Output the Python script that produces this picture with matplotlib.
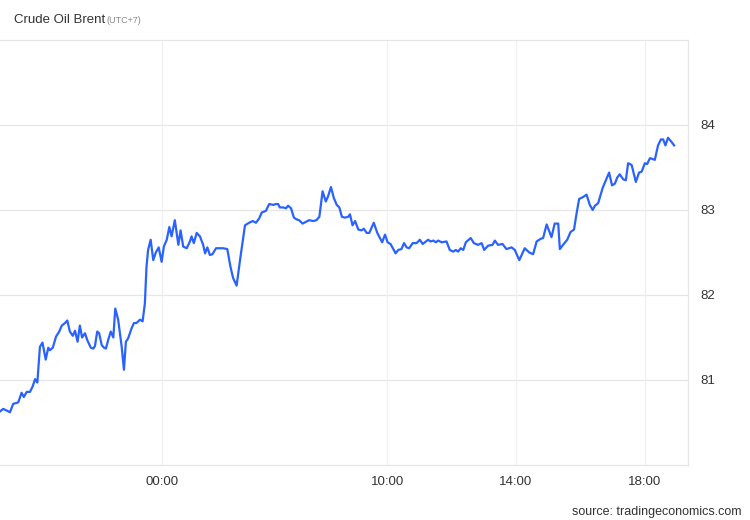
import matplotlib.pyplot as plt

plt.rcParams['font.family'] = ['Liberation Sans', 'DejaVu Sans']

# session hours on a compressed axis (0 = 00:00 label), price in USD/bbl
hours = [
    -5.03, -4.93, -4.82, -4.72, -4.62, -4.51, -4.46, -4.36, -4.29, -4.20,
    -4.10, -4.02, -3.94, -3.87, -3.79, -3.71, -3.61, -3.53, -3.48, -3.39,
    -3.29, -3.19, -3.11, -3.01, -2.94, -2.86, -2.77, -2.70, -2.62, -2.55,
    -2.48, -2.39, -2.32, -2.21, -2.13, -2.08, -2.01, -1.95, -1.87, -1.80,
    -1.74, -1.67, -1.59, -1.51, -1.45, -1.36, -1.25, -1.18, -1.12, -1.05,
    -0.94, -0.87, -0.79, -0.68, -0.60, -0.53, -0.48, -0.43, -0.35, -0.27,
    -0.19, -0.10, -0.01, 0.06, 0.15, 0.23, 0.30, 0.40, 0.51, 0.58,
    0.66, 0.77, 0.87, 0.92, 0.99, 1.08, 1.18, 1.28, 1.34, 1.41,
    1.49, 1.57, 1.68, 1.80, 1.90, 2.03, 2.13, 2.21, 2.32, 2.44,
    2.58, 2.71, 2.82, 2.92, 3.02, 3.10, 3.23, 3.33, 3.46, 3.54,
    3.61, 3.66, 3.77, 3.85, 3.92, 4.01, 4.10, 4.18, 4.26, 4.37,
    4.47, 4.57, 4.70, 4.80, 4.89, 4.99, 5.09, 5.16, 5.25, 5.34,
    5.43, 5.51, 5.59, 5.68, 5.79, 5.84, 5.92, 6.00, 6.10, 6.20,
    6.27, 6.36, 6.44, 6.58, 6.69, 6.84, 6.93, 7.01, 7.10, 7.26,
    7.34, 7.44, 7.52, 7.60, 7.68, 7.79, 7.91, 8.01, 8.10, 8.20,
    8.27, 8.34, 8.43, 8.51, 8.58, 8.69, 8.84, 8.94, 9.05, 9.13,
    9.20, 9.28, 9.36, 9.44, 9.59, 9.69, 9.82, 9.93, 10.01, 10.13,
    10.27, 10.34, 10.44, 10.58, 10.70, 10.86, 10.96, 11.10, 11.27, 11.41,
    11.53, 11.64, 11.76, 11.84, 11.95, 12.10, 12.20, 12.31, 12.36, 12.46,
    12.59, 12.69, 12.80, 12.88, 12.96, 13.07, 13.19, 13.29, 13.38, 13.45,
    13.55, 13.69, 13.79, 13.89, 13.98, 14.07, 14.14, 14.22, 14.33, 14.41,
    14.48, 14.59, 14.72, 14.82, 14.90, 15.00, 15.07, 15.16, 15.24, 15.31,
    15.41, 15.50, 15.57, 15.64, 15.72, 15.83, 15.91,
]
price = [
    80.63, 80.66, 80.64, 80.62, 80.72, 80.73, 80.74, 80.85, 80.80, 80.86,
    80.86, 80.92, 81.01, 80.97, 81.39, 81.44, 81.24, 81.38, 81.35, 81.38,
    81.51, 81.57, 81.64, 81.67, 81.70, 81.57, 81.52, 81.58, 81.45, 81.64,
    81.50, 81.55, 81.47, 81.38, 81.37, 81.40, 81.57, 81.55, 81.41, 81.38,
    81.37, 81.47, 81.57, 81.50, 81.84, 81.71, 81.39, 81.12, 81.45, 81.49,
    81.61, 81.67, 81.67, 81.71, 81.69, 81.90, 82.33, 82.53, 82.65, 82.41,
    82.50, 82.56, 82.39, 82.57, 82.65, 82.80, 82.69, 82.88, 82.59, 82.76,
    82.57, 82.55, 82.63, 82.69, 82.61, 82.73, 82.69, 82.59, 82.49, 82.56,
    82.47, 82.48, 82.55, 82.55, 82.55, 82.54, 82.33, 82.20, 82.11, 82.45,
    82.82, 82.85, 82.87, 82.85, 82.90, 82.97, 82.99, 83.07, 83.06, 83.07,
    83.07, 83.03, 83.03, 83.02, 83.05, 83.02, 82.91, 82.89, 82.88, 82.84,
    82.86, 82.88, 82.87, 82.88, 82.92, 83.22, 83.10, 83.16, 83.27, 83.14,
    83.06, 83.03, 82.92, 82.91, 82.92, 82.95, 82.82, 82.87, 82.77, 82.76,
    82.78, 82.73, 82.73, 82.85, 82.73, 82.62, 82.71, 82.62, 82.60, 82.49,
    82.53, 82.54, 82.61, 82.56, 82.55, 82.61, 82.61, 82.65, 82.60, 82.63,
    82.65, 82.63, 82.64, 82.62, 82.64, 82.62, 82.63, 82.53, 82.51, 82.53,
    82.51, 82.55, 82.53, 82.62, 82.67, 82.61, 82.59, 82.61, 82.53, 82.58,
    82.59, 82.64, 82.59, 82.60, 82.54, 82.56, 82.53, 82.41, 82.55, 82.50,
    82.48, 82.63, 82.66, 82.67, 82.83, 82.68, 82.84, 82.84, 82.54, 82.59,
    82.65, 82.74, 82.77, 82.96, 83.13, 83.15, 83.18, 83.06, 83.00, 83.05,
    83.08, 83.26, 83.35, 83.44, 83.29, 83.31, 83.38, 83.42, 83.36, 83.35,
    83.55, 83.53, 83.33, 83.44, 83.45, 83.55, 83.54, 83.61, 83.60, 83.59,
    83.76, 83.83, 83.83, 83.76, 83.85, 83.80, 83.76,
]

tick_pos = [0, 7, 11, 15]
tick_labels = ['00:00', '10:00', '14:00', '18:00']
y_ticks = [81, 82, 83, 84]

fig = plt.figure(figsize=(7.5, 5.2), dpi=100)
ax = fig.add_axes([0, 0.1058, 0.9173, 0.8173])

ax.plot(hours, price, color='#2962ff', linewidth=1.6, solid_joinstyle='round')

ax.set_xlim(-5.03, 16.34)
ax.set_ylim(80, 85)
ax.set_xticks(tick_pos)
ax.set_xticklabels(tick_labels)
ax.set_yticks(y_ticks)
ax.yaxis.tick_right()
ax.tick_params(axis='both', length=0, labelsize=9.5, colors='#333333')
ax.tick_params(axis='x', pad=8)
ax.tick_params(axis='y', pad=9)

for y in y_ticks:
    ax.axhline(y, color='#e6e6e6', linewidth=0.9, zorder=0)
for x in tick_pos:
    ax.axvline(x, color='#eef0f4', linewidth=0.9, zorder=0)

for side in ['top', 'bottom', 'right']:
    ax.spines[side].set_color('#e6e6e6')
    ax.spines[side].set_linewidth(0.9)
ax.spines['left'].set_visible(False)

fig.text(0.0187, 0.962, 'Crude Oil Brent', fontsize=9.5, color='#333333',
         va='center', ha='left')
fig.text(0.1425, 0.960, '(UTC+7)', fontsize=6.5, color='#888888',
         va='center', ha='left')
fig.text(0.989, 0.004, 'source: tradingeconomics.com', fontsize=9,
         color='#333333', ha='right', va='bottom')

fig.savefig('out.png', dpi=100)
